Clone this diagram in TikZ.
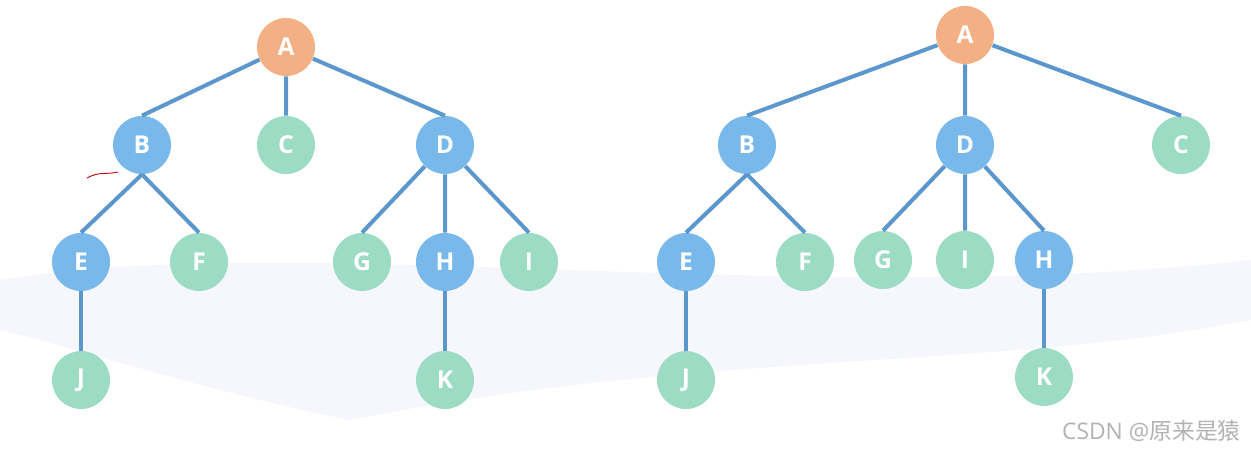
\documentclass[tikz,border=0pt]{standalone}
\usepackage{fontspec}
\setmainfont{Open Sans}
\newfontfamily\cjk{Noto Sans CJK SC}
\definecolor{rootc}{HTML}{F2B084}
\definecolor{innerc}{HTML}{78B8EA}
\definecolor{leafc}{HTML}{9CDCC4}
\definecolor{edgec}{HTML}{5B96CC}
\definecolor{wavec}{HTML}{F5F7FC}
\tikzset{
  tnode/.style={circle, minimum size=1.16cm, inner sep=0pt, text=white, font=\fontsize{14}{16}\selectfont\bfseries},
  root/.style={tnode, fill=rootc},
  inner/.style={tnode, fill=innerc},
  leaf/.style={tnode, fill=leafc},
  tedge/.style={draw=edgec, line width=0.08cm}
}
\begin{document}
\begin{tikzpicture}
\useasboundingbox (0,0) rectangle (25.02,-9.02);
% faint background wave
\fill[wavec] (0,-5.6) .. controls (6,-4.6) and (16,-6.2) .. (25.02,-5.2) -- (25.02,-6.4) .. controls (20,-7.4) and (14,-7.0) .. (7,-8.4) .. controls (4,-7.8) and (1,-6.8) .. (0,-6.6) -- cycle;
% left tree
\node[root] (la) at (5.72,-0.94) {A};
\node[inner] (lb) at (2.84,-2.90) {B};
\node[leaf] (lc) at (5.72,-2.90) {C};
\node[inner] (ld) at (8.90,-2.90) {D};
\node[inner] (le) at (1.62,-5.24) {E};
\node[leaf] (lf) at (3.98,-5.24) {F};
\node[leaf] (lg) at (7.24,-5.24) {G};
\node[inner] (lh) at (8.90,-5.24) {H};
\node[leaf] (li) at (10.58,-5.24) {I};
\node[leaf] (lj) at (1.62,-7.60) {J};
\node[leaf] (lk) at (8.90,-7.60) {K};
\path[tedge] (la) -- (lb.north) (la) -- (lc.north) (la) -- (ld.north);
\path[tedge] (lb.south) -- (le.north) (lb.south) -- (lf.north);
\path[tedge] (ld) -- (lg.north) (ld) -- (lh.north) (ld) -- (li.north);
\path[tedge] (le) -- (lj) (lh) -- (lk);
% stray pen mark
\draw[red!75!black, line width=0.5pt] (1.74,-3.56) .. controls (2.0,-3.42) and (2.1,-3.50) .. (2.36,-3.44);
% right tree
\node[root] (ra) at (19.30,-0.70) {A};
\node[inner] (rb) at (14.94,-2.90) {B};
\node[inner] (rd) at (19.30,-2.90) {D};
\node[leaf] (rc) at (23.62,-2.90) {C};
\node[inner] (re) at (13.72,-5.24) {E};
\node[leaf] (rf) at (16.10,-5.24) {F};
\node[leaf] (rg) at (17.66,-5.20) {G};
\node[leaf] (ri) at (19.30,-5.20) {I};
\node[inner] (rh) at (20.88,-5.20) {H};
\node[leaf] (rj) at (13.72,-7.60) {J};
\node[leaf] (rk) at (20.88,-7.54) {K};
\path[tedge] (ra) -- (rb.north) (ra) -- (rd.north) (ra) -- (rc.north);
\path[tedge] (rb.south) -- (re.north) (rb.south) -- (rf.north);
\path[tedge] (rd) -- (rg.north) (rd) -- (ri.north) (rd) -- (rh.north);
\path[tedge] (re) -- (rj) (rh) -- (rk);
% watermark
\node[text=black!30, font=\fontsize{13}{15}\selectfont, anchor=east] (wm) at (24.94,-8.62) {CSDN @{\cjk 原来是猿}};
\end{tikzpicture}
\end{document}
